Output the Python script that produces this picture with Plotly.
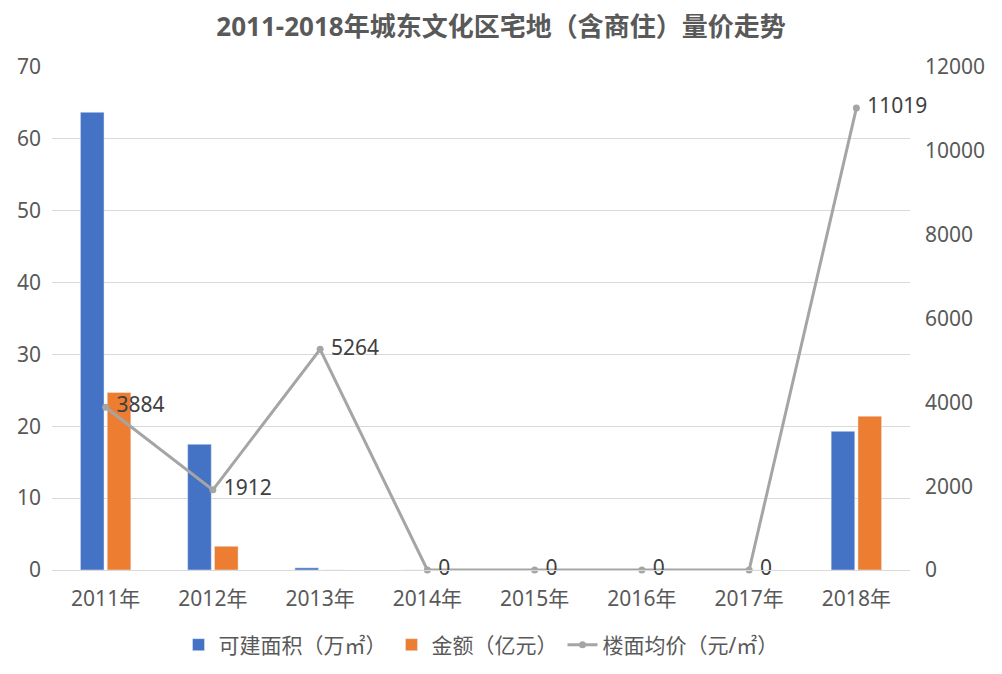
import plotly.graph_objects as go

years = ["2011年", "2012年", "2013年", "2014年", "2015年", "2016年", "2017年", "2018年"]
area = [63.7, 17.5, 0.3, 0, 0, 0, 0, 19.3]
amount = [24.7, 3.3, 0, 0, 0, 0, 0, 21.4]
price = [3884, 1912, 5264, 0, 0, 0, 0, 11019]

FONT = "Noto Sans, Noto Sans CJK SC, Microsoft YaHei, sans-serif"
TXT = "#595959"

fig = go.Figure()
fig.add_trace(go.Bar(x=years, y=area, name="可建面积（万㎡）", marker_color="#4472C4"))
fig.add_trace(go.Bar(x=years, y=amount, name="金额（亿元）", marker_color="#ED7D31"))
fig.add_trace(go.Scatter(x=years, y=price, name="楼面均价（元/㎡）", yaxis="y2",
                         mode="lines+markers+text", cliponaxis=False,
                         line=dict(color="#A5A5A5", width=3),
                         marker=dict(color="#A5A5A5", size=7),
                         text=[" " + str(v) for v in price], textposition="middle right",
                         textfont=dict(size=21, color="#404040", family=FONT)))

fig.update_layout(
    width=1002, height=674,
    paper_bgcolor="white", plot_bgcolor="white",
    margin=dict(l=52, r=92, t=67, b=104),
    font=dict(family=FONT, size=21, color=TXT),
    title=dict(text="<b>2011-2018年城东文化区宅地（含商住）量价走势</b>", x=0.5, xanchor="center",
               y=1 - 27 / 674, yanchor="middle", font=dict(size=26, color=TXT, family=FONT)),
    barmode="group", bargap=0.5, bargroupgap=0.12,
    xaxis=dict(showgrid=False, showline=True, linecolor="#D9D9D9", ticks="",
               tickfont=dict(size=21, color=TXT), ticklabelstandoff=10),
    yaxis=dict(range=[0, 70], dtick=10, showgrid=True, gridcolor="#D9D9D9",
               zeroline=False, tickfont=dict(size=21, color=TXT), ticks="", ticklabelstandoff=10),
    yaxis2=dict(range=[0, 12000], dtick=2000, tickformat="d", overlaying="y", side="right",
                showgrid=False, zeroline=False, tickfont=dict(size=21, color=TXT), ticks="",
                ticklabelstandoff=14),
    legend=dict(orientation="h", x=0.5, xanchor="center", yref="container", y=1 - 645 / 674,
                yanchor="middle", font=dict(size=21, color=TXT), traceorder="normal"),
    showlegend=True,
)

fig.write_html("out.html")
